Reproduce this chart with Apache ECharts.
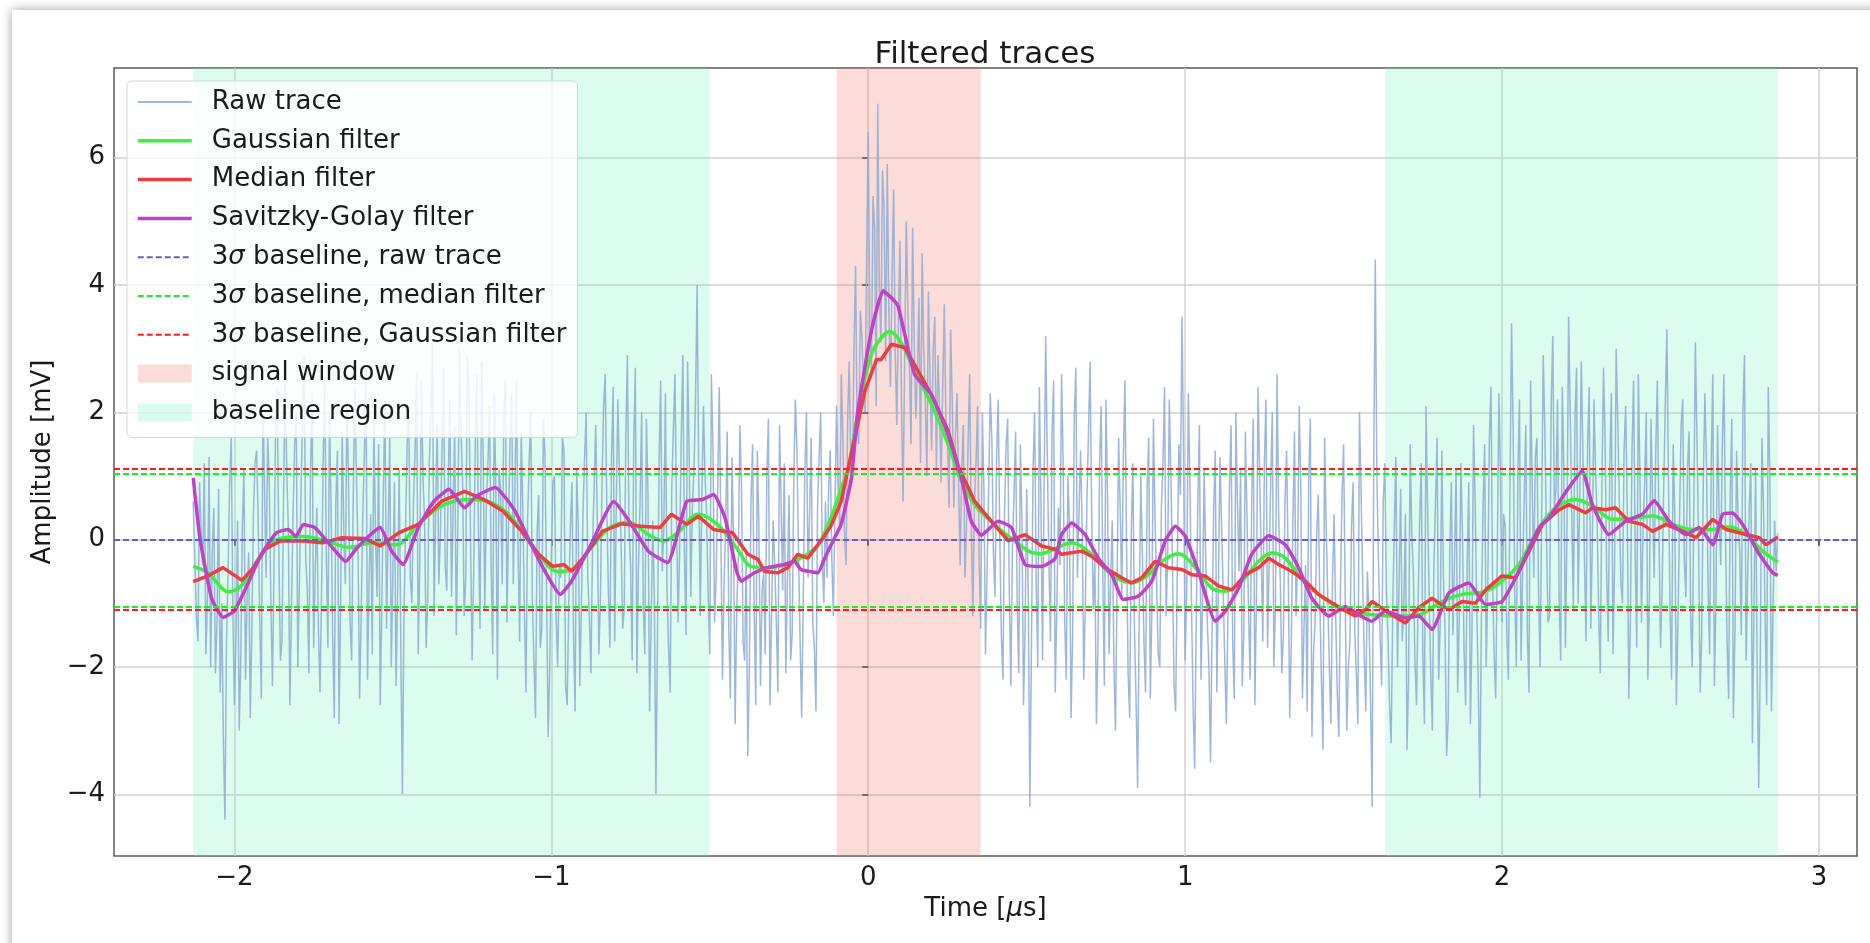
<!DOCTYPE html>
<html>
<head>
<meta charset="utf-8">
<title>Filtered traces</title>
<script src="https://cdn.jsdelivr.net/npm/echarts@6/dist/echarts.min.js"></script>
<style>
  body { margin: 0; background: #fff; overflow: hidden; }
  #card { position: absolute; left: 12px; top: 10px; width: 1920px; height: 1000px; background: #fff; box-shadow: 0 0 10px rgba(0,0,0,0.38); }
  #main { position: absolute; left: 0; top: 0; width: 1870px; height: 943px; }
</style>
</head>
<body>
<div id="card"></div>
<div id="main"></div>
<script>
// raw trace: first sample time and sample spacing (us), then amplitudes (mV), 40 samples per row
var rawT0 = -2.13;
var rawDt = 0.005;
var rawValues = [
  0.6, -0.3, -1.2, -1.6, 0.9, 0.1, -0.4, 1.2, -1.8, -0.9, 1.3, -2.0, -0.2, 0.5, -2.1, -1.3, 0.8, -2.4, -1.0, -3.1, -4.4, -1.6, -0.5, 0.9, 1.6, -1.1, -2.6, -1.5, 0.3, -3.0, -1.9, 0.2, 1.1, -2.2, -0.9, -0.2, -2.8, -1.4, 0.4, 1.2,
  1.4, 0.3, -1.3, -2.5, 2.2, 0.8, -0.6, 1.6, 0.9, -1.0, -2.3, -0.4, 1.8, 2.4, -0.1, -1.9, -1.6, 0.6, 2.6, 1.1, 0.2, -2.6, -1.1, 0.4, 1.5, 2.0, -2.0, -0.7, 0.7, 1.9, 2.9, -0.3, -0.8, -2.1, 1.0, 2.3, -1.7, -0.5, 0.5, -1.4,
  -2.4, -0.8, 1.2, 2.5, -0.3, -1.7, 2.0, 0.5, -1.5, -2.8, 0.6, 1.4, -2.9, -1.0, 1.7, 0.2, -0.7, 2.2, 0.9, -1.3, -1.9, 0.7, 2.4, 1.0, -0.2, -2.5, -1.2, 0.4, 1.3, 2.7, -2.2, -0.6, 0.4, -1.8, 1.9, 0.1, -0.9, 1.5, -2.6, -1.1,
  0.8, 2.2, -1.4, 0.1, 1.6, -2.0, -0.5, 0.9, -2.3, -0.8, 1.1, -1.6, -4.0, -1.2, 0.2, 1.5, 2.1, -0.6, -1.0, 0.6, 1.4, 2.6, -1.8, -0.3, 2.5, 1.0, 0.3, -1.7, -0.9, 1.2, 2.0, 3.1, -1.2, 0.5, 1.8, -0.7, 0.1, 1.4, 2.7, -0.4,
  -0.8, 1.0, 2.2, -0.9, 0.4, 1.8, -1.5, 0.2, 3.0, 1.7, 0.9, -1.2, -0.6, 2.9, 2.4, 0.0, -1.9, -0.5, 1.5, 2.6, 0.1, -1.4, 2.8, 1.3, -1.1, 0.6, 1.2, 2.1, -0.4, -1.8, 2.3, 0.7, -2.2, 1.1, 0.8, -0.7, 1.9, 2.5, -1.3, 0.3,
  1.6, 2.3, -0.7, 0.8, 2.5, -0.2, -1.6, 1.7, 0.5, -1.1, -2.4, 0.3, 1.2, 2.0, -0.9, -1.9, -2.8, 0.1, 0.7, -1.7, -1.4, 1.9, 1.3, -0.8, -3.1, -2.0, -0.3, 0.9, 1.0, -1.2, -2.0, -0.4, -0.6, 1.6, 1.4, -2.3, -2.6, -1.0, 0.2, 0.9,
  -1.5, -2.7, 1.1, 0.2, -2.3, -1.0, 0.4, 1.3, 2.0, -0.6, -1.2, -2.1, -0.1, 0.8, 1.8, 0.3, -1.8, -0.9, 0.9, 2.1, 2.6, 0.5, -0.8, -1.7, 1.3, 2.4, -1.6, 0.6, 2.2, 1.0, 0.0, -1.4, -1.1, 1.6, 2.9, 0.2, -0.4, -1.9, 1.5, 2.7,
  -2.1, -0.4, 0.6, 2.0, -1.0, -1.8, 1.9, 0.7, -2.7, -1.3, 0.3, -0.9, -4.0, -1.5, 1.2, 2.5, -0.5, 0.2, 2.3, -0.8, -1.7, -2.4, 0.8, 1.7, 2.6, 0.4, -1.3, -0.1, 1.6, 2.9, -0.2, -1.5, 2.8, 1.3, -0.9, 0.5, 1.1, 2.2, 4.0, 1.0,
  -1.2, 0.7, 2.1, 1.0, 0.4, -0.9, -1.8, 2.6, 1.5, -1.3, -0.6, 0.8, 2.4, 0.1, -2.2, -0.7, 0.2, 1.7, -1.4, -2.5, 1.3, 0.0, -2.9, -1.1, -0.3, 1.8, 0.9, -1.6, -1.9, -0.2, -3.4, -2.0, 0.6, 1.5, -1.1, -2.6, 1.4, 0.2, -2.3, -0.8,
  -0.5, -1.8, 1.0, 1.9, -2.6, -1.2, 0.3, -0.4, -1.3, -2.4, 1.8, 0.6, -0.8, 1.2, -2.1, -0.6, 0.7, -1.9, -1.5, 0.9, 2.2, 1.4, -0.2, -1.6, -2.8, -0.9, 1.1, 2.0, -0.6, 0.4, 1.6, -1.3, -1.7, -2.7, 0.5, 1.3, 2.0, -0.3, -1.0, 0.6,
  -0.6, 0.8, 1.4, -0.3, -1.2, 0.5, 2.1, 0.9, 0.2, 2.6, 1.6, 0.1, -0.4, 1.9, 2.8, 1.1, 0.9, 3.0, 4.3, 1.7, 1.5, 3.6, 3.2, 2.4, 2.0, 4.5, 6.4, 3.3, 2.6, 5.4, 4.9, 2.1, 6.85, 4.0, 3.1, 5.8, 5.2, 2.8, 5.9, 3.6,
  2.4, 4.1, 5.5, 3.0, 1.8, 3.4, 4.7, 2.1, 0.6, 2.9, 5.0, 3.6, 2.7, 1.5, 4.9, 3.1, 1.9, 2.6, 3.8, 1.2, 4.5, 3.0, 2.2, 1.0, 3.9, 2.5, 1.4, 3.0, 3.5, 1.1, 2.9, 2.0, 0.9, 2.4, 3.7, 1.9, 1.6, 0.5, 3.3, 2.2,
  0.5, 1.6, 2.3, 0.9, -0.4, 1.1, 1.8, -0.6, 0.2, 1.5, 2.6, 0.3, -1.2, 0.6, 1.2, 2.1, -0.3, -1.4, 2.0, 0.8, -1.8, -0.5, 0.8, 2.3, 1.6, -0.2, -0.9, 1.3, 2.2, 0.1, -1.5, -2.2, 0.4, 1.5, 1.9, -0.8, -2.3, -0.1, 0.7, 1.7,
  -1.0, -2.1, 1.5, 0.3, -2.6, -1.4, 0.8, -0.9, -4.2, -1.7, 1.1, 2.0, -0.7, -2.0, 2.4, 0.6, -1.9, 0.9, 3.2, 1.3, -0.3, -1.6, 1.7, 2.5, -2.4, -1.1, 0.5, -0.4, 2.6, 1.2, -1.3, -2.2, 1.0, 0.2, -2.8, -1.5, 1.9, 2.7, -0.6, 0.4,
  1.4, 0.2, -2.2, -1.0, 0.6, 1.7, 2.8, 0.4, -1.1, -0.3, -2.9, -1.6, 1.2, 2.1, -0.5, -2.3, 2.2, 0.7, -1.8, -0.6, 0.3, -1.9, -3.0, -0.8, 1.6, 0.5, -0.9, 1.3, 2.5, 0.0, -2.1, -2.8, 0.1, 1.2, -1.4, -2.5, -3.9, -1.2, 1.0, -0.2,
  -1.6, -2.4, 0.8, 1.6, -2.5, -1.1, 1.9, 0.3, -0.7, -1.8, -2.0, 0.5, 1.2, 2.4, -1.2, -0.2, 2.2, 1.0, -0.4, -2.3, -2.7, -0.6, 1.5, 0.7, 3.5, 1.4, -1.9, -0.8, 2.3, 0.9, -1.0, -2.6, -3.6, -1.3, 0.6, 1.8, -2.2, -0.9, 1.1, -0.3,
  -1.3, -2.0, -3.5, -1.4, 0.5, 1.4, -2.4, -0.7, 1.3, 0.2, -0.8, -1.9, -2.9, -1.2, 0.9, 1.8, -1.6, -2.5, 2.0, 0.6, -0.5, 1.1, -2.3, -1.5, 1.7, 0.4, -1.1, -2.2, 0.6, 1.9, -2.6, -0.9, 2.4, 1.0, -0.2, -1.6, 1.2, 2.2, -1.7, -0.4,
  0.9, 2.0, -2.0, -1.0, 2.6, 0.4, -0.6, -2.1, -1.5, 0.6, 1.4, -0.3, -2.8, -1.6, 0.3, 1.7, -1.2, -0.2, 2.1, 0.8, -2.5, -1.4, -0.4, -2.7, 1.0, 1.9, -3.1, -1.8, -1.3, 0.1, 0.7, -1.0, -2.2, -3.3, 1.6, 0.2, -0.9, -2.0, -2.9, -0.6,
  0.4, -1.2, -2.4, -3.1, -0.8, 0.7, 1.5, -0.9, -3.0, -2.0, -1.6, 0.2, 0.9, -1.4, -2.1, -2.9, 2.0, 0.8, -0.6, -1.8, -2.7, -0.5, -1.2, -2.5, -4.2, 1.2, 4.4, 1.0, -0.3, -1.5, -2.3, 0.6, 1.2, -0.8, -1.5, -2.6, -3.2, -1.1, 0.2, 1.3,
  -2.0, -0.7, 0.8, -1.6, -1.1, 0.4, -3.3, -2.2, 1.5, 0.1, -0.5, -1.9, -2.6, -1.0, 0.3, 1.2, -1.8, -2.9, 2.1, 0.5, -0.9, -2.1, -3.0, -0.4, 0.6, 1.6, -2.2, -1.3, 1.4, -0.6, -1.4, -3.4, -2.8, -0.2, 0.9, -1.5, -0.3, 1.1, -2.4, -1.2,
  1.2, 0.1, -1.7, -2.6, -0.4, 0.9, -2.9, -1.5, 1.8, 0.6, -1.0, -2.3, -4.05, -1.1, 0.5, 1.5, -2.0, -0.7, 1.6, 2.4, -0.6, -1.8, -2.5, -0.2, 2.3, 1.0, -1.3, 0.4, 0.2, -1.5, -2.2, 0.8, 3.4, 1.7, -0.8, -2.0, 1.1, 2.2, -1.9, -0.5,
  0.7, 1.8, -1.5, -2.4, 2.5, 0.9, -0.6, 1.3, 1.6, -0.8, -2.0, 0.4, 2.9, 1.7, 0.1, -1.3, -1.2, 2.1, 3.2, 0.5, 0.8, 2.2, -0.9, -1.9, 2.4, 1.1, -1.7, 0.2, 3.5, 2.0, 0.4, -1.1, 1.9, 2.7, -1.0, 0.6, 2.8, 1.4, -0.3, -1.6,
  1.5, 2.4, -1.4, 0.0, 2.2, 1.1, 0.3, -1.2, -2.1, 0.8, 2.7, 1.6, -0.5, -1.6, 1.2, 2.3, -1.8, -0.4, 3.0, 1.9, 0.6, -0.7, -1.0, 1.4, 2.1, 0.5, -2.5, -1.2, 1.4, 2.5, -0.2, -1.7, 2.6, 1.0, -1.3, 0.2, 0.9, 2.0, -2.2, -0.9,
  1.9, 0.6, -0.6, 1.4, 2.5, 0.2, -1.7, -0.8, 0.8, 2.1, 3.3, 1.0, -1.1, -2.2, 1.5, 0.4, -2.6, -1.3, 0.3, 1.8, 2.2, -0.3, -0.9, 1.1, 1.7, -1.2, -2.0, 0.5, 3.1, 1.6, 0.0, -2.4, -1.5, 0.9, 2.3, 1.2, -0.7, -1.8, 1.2, 2.6,
  -2.3, -0.9, 1.8, 0.4, -0.4, 1.5, 2.6, 0.1, -1.6, -2.5, 0.7, 1.9, -2.8, -1.4, 1.4, 0.3, -0.2, -1.5, 2.0, 2.9, -1.9, -0.6, 0.5, 1.2, -3.2, -1.0, 1.1, -2.1, -3.9, -1.8, 1.6, 0.5, -1.2, -2.6, 2.4, 1.0, -2.7, -1.1, 0.3, -0.5,
  0.1
];

// Gaussian filter
var gaussX = [-2.13, -2.084, -2.018, -1.976, -1.915, -1.867, -1.782, -1.71, -1.637, -1.565, -1.49, -1.42, -1.347, -1.262, -1.2, -1.14, -1.093, -1.04, -0.98, -0.936,
  -0.875, -0.815, -0.754, -0.694, -0.645, -0.597, -0.536, -0.476, -0.415, -0.37, -0.317, -0.264, -0.212, -0.159, -0.117, -0.085, -0.064, -0.022, 0.01, 0.041,
  0.068, 0.104, 0.146, 0.199, 0.252, 0.294, 0.336, 0.4, 0.462, 0.515, 0.547, 0.578, 0.642, 0.705, 0.768, 0.831, 0.884, 0.926, 0.979, 1.032,
  1.084, 1.127, 1.179, 1.232, 1.274, 1.316, 1.369, 1.421, 1.485, 1.548, 1.59, 1.663, 1.737, 1.811, 1.874, 1.948, 2.0, 2.053, 2.117, 2.169,
  2.232, 2.285, 2.349, 2.422, 2.475, 2.538, 2.601, 2.665, 2.717, 2.77, 2.822, 2.87];
var gaussY = [-0.42, -0.52, -0.82, -0.71, -0.23, 0.0, 0.05, -0.02, -0.12, -0.05, -0.08, 0.24, 0.53, 0.63, 0.6, 0.42, 0.13, -0.23, -0.5, -0.47,
  -0.13, 0.19, 0.27, 0.08, -0.02, 0.13, 0.4, 0.24, -0.13, -0.42, -0.44, -0.4, -0.29, -0.08, 0.35, 0.81, 1.1, 2.28, 2.91, 3.17,
  3.27, 3.09, 2.65, 2.13, 1.5, 0.92, 0.55, 0.23, -0.02, -0.2, -0.22, -0.17, -0.05, -0.23, -0.55, -0.68, -0.55, -0.34, -0.22, -0.44,
  -0.76, -0.81, -0.65, -0.34, -0.21, -0.29, -0.63, -0.86, -1.07, -1.15, -1.18, -1.2, -1.18, -0.97, -0.86, -0.81, -0.65, -0.39, 0.19, 0.5,
  0.63, 0.53, 0.32, 0.34, 0.37, 0.24, 0.16, 0.16, 0.2, 0.08, -0.18, -0.35];

// median filter
var medianX = [-2.13, -2.084, -2.036, -1.976, -1.94, -1.903, -1.855, -1.782, -1.722, -1.661, -1.589, -1.54, -1.48, -1.42, -1.347, -1.274, -1.213, -1.153, -1.093, -1.04,
  -0.996, -0.96, -0.936, -0.9, -0.839, -0.778, -0.718, -0.657, -0.621, -0.573, -0.536, -0.488, -0.428, -0.38, -0.348, -0.327, -0.285, -0.254, -0.222, -0.191,
  -0.149, -0.117, -0.085, -0.064, -0.011, 0.026, 0.041, 0.073, 0.115, 0.146, 0.199, 0.252, 0.284, 0.336, 0.38, 0.442, 0.495, 0.547, 0.589, 0.61,
  0.674, 0.705, 0.747, 0.8, 0.831, 0.863, 0.905, 0.947, 0.99, 1.021, 1.063, 1.106, 1.148, 1.19, 1.232, 1.264, 1.295, 1.337, 1.379, 1.421,
  1.463, 1.506, 1.537, 1.569, 1.59, 1.632, 1.695, 1.737, 1.779, 1.832, 1.874, 1.916, 1.948, 2.0, 2.043, 2.085, 2.127, 2.18, 2.211, 2.264,
  2.285, 2.327, 2.358, 2.4, 2.443, 2.475, 2.517, 2.58, 2.612, 2.665, 2.707, 2.77, 2.812, 2.833, 2.87];
var medianY = [-0.66, -0.57, -0.44, -0.64, -0.44, -0.15, -0.02, -0.02, -0.05, 0.03, 0.02, -0.1, 0.11, 0.24, 0.6, 0.76, 0.63, 0.45, 0.13, -0.23,
  -0.42, -0.39, -0.5, -0.29, 0.13, 0.25, 0.21, 0.19, 0.4, 0.24, 0.37, 0.16, 0.11, -0.23, -0.31, -0.5, -0.52, -0.44, -0.23, -0.29,
  -0.02, 0.22, 0.61, 1.1, 2.33, 2.83, 2.83, 3.07, 3.02, 2.75, 2.28, 1.71, 1.15, 0.6, 0.34, -0.02, 0.08, -0.1, -0.15, -0.23,
  -0.18, -0.26, -0.44, -0.6, -0.68, -0.6, -0.34, -0.44, -0.47, -0.55, -0.57, -0.73, -0.79, -0.55, -0.44, -0.29, -0.39, -0.5, -0.65, -0.86,
  -0.99, -1.12, -1.2, -1.1, -0.97, -1.12, -1.31, -1.07, -0.92, -1.1, -0.97, -1.0, -0.79, -0.57, -0.6, -0.18, 0.24, 0.47, 0.55, 0.42,
  0.5, 0.47, 0.5, 0.29, 0.24, 0.13, 0.24, 0.11, 0.03, 0.32, 0.16, 0.08, 0.03, -0.08, 0.04];

// Savitzky-Golay filter
var sgX = [-2.13, -2.109, -2.072, -2.036, -2.0, -1.964, -1.915, -1.867, -1.83, -1.806, -1.782, -1.746, -1.698, -1.649, -1.613, -1.577, -1.54, -1.504, -1.468, -1.42,
  -1.371, -1.323, -1.274, -1.238, -1.177, -1.117, -1.069, -1.02, -0.972, -0.936, -0.875, -0.803, -0.754, -0.694, -0.633, -0.573, -0.524, -0.488, -0.452, -0.415,
  -0.401, -0.359, -0.317, -0.264, -0.233, -0.212, -0.159, -0.138, -0.117, -0.085, -0.053, -0.033, 0.01, 0.047, 0.073, 0.094, 0.146, 0.199, 0.252, 0.294,
  0.325, 0.357, 0.41, 0.452, 0.495, 0.547, 0.589, 0.61, 0.642, 0.684, 0.726, 0.768, 0.805, 0.852, 0.895, 0.937, 0.969, 1.0, 1.042, 1.095,
  1.127, 1.169, 1.21, 1.264, 1.316, 1.358, 1.4, 1.453, 1.506, 1.548, 1.589, 1.632, 1.695, 1.737, 1.779, 1.832, 1.895, 1.948, 2.0, 2.053,
  2.117, 2.148, 2.2, 2.253, 2.285, 2.337, 2.39, 2.443, 2.48, 2.527, 2.58, 2.622, 2.665, 2.696, 2.727, 2.759, 2.812, 2.854, 2.87];
var sgY = [0.97, 0.03, -0.92, -1.22, -1.12, -0.76, -0.23, 0.11, 0.16, 0.05, 0.24, 0.19, -0.08, -0.34, -0.13, 0.05, 0.19, -0.18, -0.39, 0.19,
  0.6, 0.79, 0.5, 0.68, 0.82, 0.47, -0.02, -0.5, -0.86, -0.65, -0.08, 0.6, 0.29, -0.18, -0.36, 0.6, 0.63, 0.71, 0.34, -0.5,
  -0.65, -0.52, -0.44, -0.39, -0.34, -0.47, -0.52, -0.3, -0.08, 0.25, 0.97, 2.02, 3.28, 3.91, 3.8, 3.67, 2.6, 2.28, 1.65, 0.97,
  0.29, 0.07, 0.29, 0.19, -0.39, -0.42, -0.3, 0.08, 0.26, 0.08, -0.29, -0.55, -0.94, -0.89, -0.65, -0.02, 0.21, 0.06, -0.5, -1.28,
  -1.12, -0.76, -0.23, 0.06, -0.08, -0.44, -0.92, -1.2, -1.05, -1.18, -1.28, -1.12, -1.23, -1.2, -1.41, -0.84, -0.68, -1.02, -0.97, -0.5,
  0.19, 0.34, 0.74, 1.08, 0.55, 0.08, 0.29, 0.4, 0.61, 0.29, 0.08, 0.19, -0.08, 0.4, 0.42, 0.24, -0.23, -0.52, -0.56];

// 3 sigma baselines (mV)
var baselineRaw = [0.0];
var baselineMedian = [1.04, -1.05];
var baselineGauss = [1.11, -1.10];

// shaded spans (us)
var signalWindow = [-0.1, 0.355];
var baselineRegions = [[-2.13, -0.5], [1.63, 2.87]];

// axes
var xRange = [-2.38, 3.12];
var yRange = [-4.97, 7.41];
var xTicks = [-2, -1, 0, 1, 2, 3];
var yTicks = [-4, -2, 0, 2, 4, 6];

var FONT = 'DejaVu Sans';
var RAW_COLOR = 'rgba(140,170,212,0.85)';

function pairs(xs, ys) {
  return xs.map(function (x, i) { return [x, ys[i]]; });
}
var rawData = rawValues.map(function (v, i) { return [rawT0 + i * rawDt, v]; });

function minusFmt(v) {
  return v < 0 ? '\u2212' + (-v) : String(v);
}

function hLines(vals) {
  return vals.map(function (v) { return { yAxis: v }; });
}

var chart = echarts.init(document.getElementById('main'));

var option = {
  animation: false,
  title: {
    text: 'Filtered traces',
    left: 985,
    textAlign: 'center',
    top: 39,
    padding: 0,
    textStyle: { fontFamily: FONT, fontSize: 31, fontWeight: 'normal', color: '#1a1a1a' }
  },
  grid: {
    left: 114, right: 13, top: 68, bottom: 87,
    show: true, borderColor: '#5a5a5a', borderWidth: 1.5, backgroundColor: 'transparent'
  },
  legend: {
    orient: 'vertical',
    left: 127, top: 81,
    padding: [8, 11, 12, 9],
    itemWidth: 54, itemHeight: 18, itemGap: 12.8,
    backgroundColor: 'rgba(255,255,255,0.82)',
    borderColor: '#d6d6d6', borderWidth: 1, borderRadius: 5,
    selectedMode: false,
    itemStyle: { opacity: 0 },  // hide the symbol in line icons, keep the line
    formatter: function (name) { return name.replace('\u03c3', '{i|\u03c3}'); },
    textStyle: {
      fontFamily: FONT, fontSize: 26, lineHeight: 26, color: '#1a1a1a', padding: [0, 0, 0, 15],
      rich: { i: { fontFamily: FONT, fontSize: 26, fontStyle: 'italic', color: '#1a1a1a' } }
    },
    data: [
      { name: 'Raw trace', lineStyle: { width: 1.8 } },
      { name: 'Gaussian filter', lineStyle: { width: 3.5 } },
      { name: 'Median filter', lineStyle: { width: 3.5 } },
      { name: 'Savitzky-Golay filter', lineStyle: { width: 3.5 } },
      { name: '3\u03c3 baseline, raw trace', lineStyle: { width: 2 } },
      { name: '3\u03c3 baseline, median filter', lineStyle: { width: 2 } },
      { name: '3\u03c3 baseline, Gaussian filter', lineStyle: { width: 2 } },
      { name: 'signal window', icon: 'rect', itemStyle: { opacity: 1 } },
      { name: 'baseline region', icon: 'rect', itemStyle: { opacity: 1 } }
    ]
  },
  xAxis: {
    type: 'value', min: xRange[0], max: xRange[1],
    name: 'Time [{i|\u03bc}s]', nameLocation: 'middle', nameGap: 33,
    nameTextStyle: {
      fontFamily: FONT, fontSize: 26, color: '#1a1a1a',
      rich: { i: { fontFamily: FONT, fontSize: 26, fontStyle: 'italic', color: '#1a1a1a' } }
    },
    axisLine: { show: false },
    axisTick: { show: true, inside: false, length: 6, customValues: xTicks, lineStyle: { color: '#333', width: 1.5 } },
    axisLabel: { customValues: xTicks, margin: 9, fontFamily: FONT, fontSize: 26, color: '#1a1a1a', formatter: minusFmt },
    splitLine: { show: true, lineStyle: { color: '#d2d2d2', width: 1.5 } }
  },
  yAxis: {
    type: 'value', min: yRange[0], max: yRange[1],
    name: 'Amplitude [mV]', nameLocation: 'middle', nameGap: 46,
    nameTextStyle: { fontFamily: FONT, fontSize: 26, color: '#1a1a1a' },
    axisLine: { show: false },
    axisTick: { show: true, inside: false, length: 6, customValues: yTicks, lineStyle: { color: '#333', width: 1.5 } },
    axisLabel: { customValues: yTicks, margin: 9, fontFamily: FONT, fontSize: 26, color: '#1a1a1a', formatter: minusFmt },
    splitLine: { show: true, lineStyle: { color: '#d2d2d2', width: 1.5 } }
  },
  series: [
    {
      name: 'signal window', type: 'bar', data: [],
      itemStyle: { color: 'rgba(243,115,99,0.25)' },
      markArea: {
        silent: true,
        itemStyle: { color: 'rgba(243,115,99,0.25)' },
        data: [[{ xAxis: signalWindow[0] }, { xAxis: signalWindow[1] }]]
      }
    },
    {
      name: 'baseline region', type: 'bar', data: [],
      itemStyle: { color: 'rgba(115,243,195,0.25)' },
      markArea: {
        silent: true,
        itemStyle: { color: 'rgba(115,243,195,0.25)' },
        data: baselineRegions.map(function (r) { return [{ xAxis: r[0] }, { xAxis: r[1] }]; })
      }
    },
    {
      name: 'Raw trace', type: 'line', data: rawData, symbol: 'none',
      lineStyle: { color: RAW_COLOR, width: 1.5 },
      itemStyle: { color: RAW_COLOR }
    },
    {
      name: 'Gaussian filter', type: 'line', data: pairs(gaussX, gaussY), symbol: 'none', smooth: 0.35,
      lineStyle: { color: '#3df03d', width: 3.5 }, itemStyle: { color: '#3df03d' }
    },
    {
      name: 'Median filter', type: 'line', data: pairs(medianX, medianY), symbol: 'none',
      lineStyle: { color: '#f23c3c', width: 3.5 }, itemStyle: { color: '#f23c3c' }
    },
    {
      name: 'Savitzky-Golay filter', type: 'line', data: pairs(sgX, sgY), symbol: 'none', smooth: 0.15,
      lineStyle: { color: '#c23fca', width: 3.5 }, itemStyle: { color: '#c23fca' }
    },
    {
      name: '3\u03c3 baseline, raw trace', type: 'line', data: [], symbol: 'none',
      lineStyle: { color: '#6a5acd', width: 2, type: [6, 3] }, itemStyle: { color: '#6a5acd' },
      markLine: {
        silent: true, symbol: ['none', 'none'], label: { show: false },
        lineStyle: { color: '#6a5acd', width: 2, type: [6, 3] },
        data: hLines(baselineRaw)
      }
    },
    {
      name: '3\u03c3 baseline, median filter', type: 'line', data: [], symbol: 'none',
      lineStyle: { color: '#19f019', width: 2, type: [6, 3] }, itemStyle: { color: '#19f019' },
      markLine: {
        silent: true, symbol: ['none', 'none'], label: { show: false },
        lineStyle: { color: '#19f019', width: 2, type: [6, 3] },
        data: hLines(baselineMedian)
      }
    },
    {
      name: '3\u03c3 baseline, Gaussian filter', type: 'line', data: [], symbol: 'none',
      lineStyle: { color: '#ff1a1a', width: 2, type: [6, 3] }, itemStyle: { color: '#ff1a1a' },
      markLine: {
        silent: true, symbol: ['none', 'none'], label: { show: false },
        lineStyle: { color: '#ff1a1a', width: 2, type: [6, 3] },
        data: hLines(baselineGauss)
      }
    }
  ]
};

chart.setOption(option);
window.addEventListener('resize', chart.resize);
</script>
</body>
</html>
